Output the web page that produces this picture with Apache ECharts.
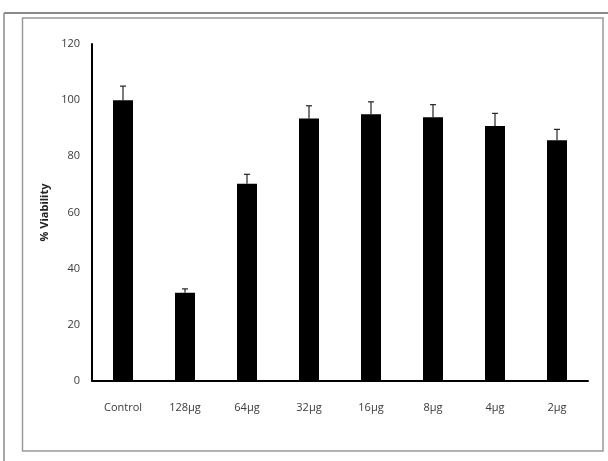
<!DOCTYPE html>
<html>
<head>
<meta charset="utf-8">
<script src="https://cdn.jsdelivr.net/npm/echarts@6/dist/echarts.min.js"></script>
<style>
  html, body { margin: 0; padding: 0; background: #fff; }
  #chart { width: 608px; height: 461px; }
</style>
</head>
<body>
<div id="chart"></div>
<script>
// Cell viability per treatment dose
const categories = ['Control', '128\u03bcg', '64\u03bcg', '32\u03bcg', '16\u03bcg', '8\u03bcg', '4\u03bcg', '2\u03bcg'];
const viability = [100, 31.4, 70.2, 93.5, 95, 93.9, 90.8, 85.7];
const viabilityError = [5, 1.4, 3.4, 4.5, 4.4, 4.5, 4.5, 3.9];
const yTicks = { min: 0, max: 120, interval: 20 };

const labelFont = 'Open Sans, Liberation Sans, sans-serif';

const chart = echarts.init(document.getElementById('chart'), null, { renderer: 'canvas' });

chart.setOption({
  animation: false,
  backgroundColor: '#ffffff',
  grid: { left: 92, right: 20, top: 44, bottom: 80 },
  xAxis: {
    type: 'category',
    data: categories,
    axisLine: { lineStyle: { color: '#000', width: 2 } },
    axisTick: { show: false },
    axisLabel: { color: '#3a3a3a', fontSize: 11, fontFamily: labelFont, margin: 21 }
  },
  yAxis: {
    type: 'value',
    min: yTicks.min,
    max: yTicks.max,
    interval: yTicks.interval,
    name: '% Viability',
    nameLocation: 'middle',
    nameGap: 40,
    nameTextStyle: { color: '#222', fontSize: 11, fontWeight: 'bold', fontFamily: labelFont },
    axisLine: { show: true, lineStyle: { color: '#000', width: 2 } },
    axisTick: { show: false },
    splitLine: { show: false },
    axisLabel: { color: '#3a3a3a', fontSize: 11, fontFamily: labelFont, margin: 12 }
  },
  series: [
    {
      type: 'bar',
      data: viability,
      barWidth: 20,
      itemStyle: { color: '#000' }
    },
    {
      // upper error whiskers with caps
      type: 'custom',
      data: viability.map((v, i) => [i, v, v + viabilityError[i]]),
      renderItem: function (params, api) {
        const base = api.coord([api.value(0), api.value(1)]);
        const top = api.coord([api.value(0), api.value(2)]);
        const half = 3;
        const style = { stroke: '#222', lineWidth: 1.2 };
        return {
          type: 'group',
          children: [
            { type: 'line', shape: { x1: base[0], y1: base[1], x2: top[0], y2: top[1] }, style: style },
            { type: 'line', shape: { x1: top[0] - half, y1: top[1], x2: top[0] + half, y2: top[1] }, style: style }
          ]
        };
      },
      z: 3
    }
  ],
  graphic: [
    { type: 'line', shape: { x1: 4, y1: 13, x2: 608, y2: 13 }, style: { stroke: '#8a8a8a', lineWidth: 2 } },
    { type: 'line', shape: { x1: 4, y1: 13, x2: 4, y2: 461 }, style: { stroke: '#8a8a8a', lineWidth: 1.5 } },
    { type: 'rect', shape: { x: 22.5, y: 18, width: 580.5, height: 433 }, style: { fill: 'none', stroke: '#9a9a9a', lineWidth: 1.5 } }
  ]
});
</script>
</body>
</html>
